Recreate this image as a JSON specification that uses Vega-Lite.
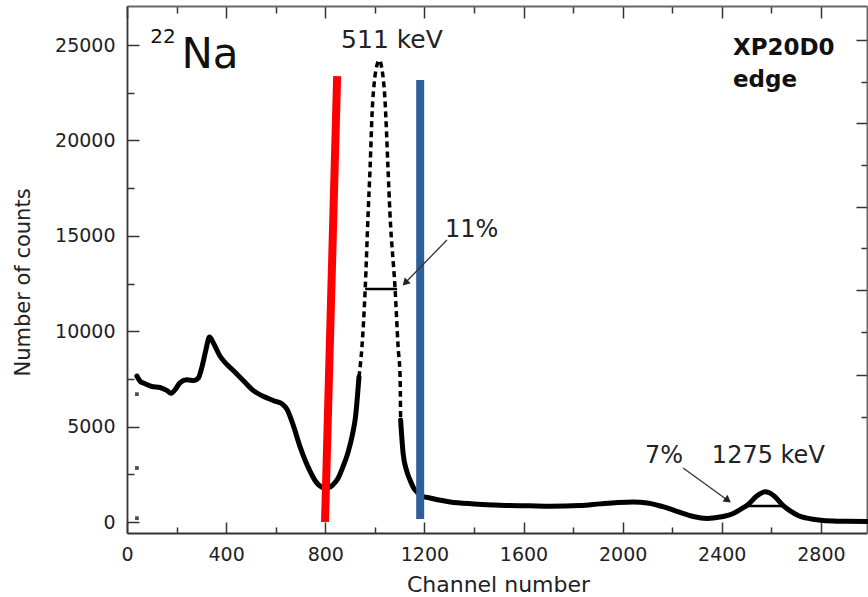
{
  "$schema": "https://vega.github.io/schema/vega-lite/v6.json",
  "width": 740,
  "height": 527,
  "autosize": {"type": "none"},
  "padding": {"left": 127, "top": 6, "right": 1, "bottom": 64},
  "background": "white",
  "config": {"view": {"stroke": null}},
  "datasets": {
    "spec": [
      {"ch": 40, "counts": 7650, "part": "a"},
      {"ch": 55, "counts": 7350, "part": "a"},
      {"ch": 73, "counts": 7250, "part": "a"},
      {"ch": 100, "counts": 7100, "part": "a"},
      {"ch": 133, "counts": 7050, "part": "a"},
      {"ch": 160, "counts": 6900, "part": "a"},
      {"ch": 178, "counts": 6750, "part": "a"},
      {"ch": 195, "counts": 6950, "part": "a"},
      {"ch": 214, "counts": 7300, "part": "a"},
      {"ch": 242, "counts": 7450, "part": "a"},
      {"ch": 270, "counts": 7420, "part": "a"},
      {"ch": 288, "counts": 7550, "part": "a"},
      {"ch": 302, "counts": 8100, "part": "a"},
      {"ch": 318, "counts": 9000, "part": "a"},
      {"ch": 333, "counts": 9700, "part": "a"},
      {"ch": 348, "counts": 9400, "part": "a"},
      {"ch": 375, "counts": 8700, "part": "a"},
      {"ch": 400, "counts": 8300, "part": "a"},
      {"ch": 428, "counts": 7950, "part": "a"},
      {"ch": 470, "counts": 7400, "part": "a"},
      {"ch": 509, "counts": 6900, "part": "a"},
      {"ch": 540, "counts": 6650, "part": "a"},
      {"ch": 565, "counts": 6500, "part": "a"},
      {"ch": 600, "counts": 6320, "part": "a"},
      {"ch": 625, "counts": 6200, "part": "a"},
      {"ch": 646, "counts": 5900, "part": "a"},
      {"ch": 670, "counts": 5100, "part": "a"},
      {"ch": 698, "counts": 3950, "part": "a"},
      {"ch": 720, "counts": 3200, "part": "a"},
      {"ch": 739, "counts": 2650, "part": "a"},
      {"ch": 760, "counts": 2150, "part": "a"},
      {"ch": 780, "counts": 1870, "part": "a"},
      {"ch": 799, "counts": 1780, "part": "a"},
      {"ch": 815, "counts": 1800, "part": "a"},
      {"ch": 831, "counts": 1950, "part": "a"},
      {"ch": 850, "counts": 2250, "part": "a"},
      {"ch": 870, "counts": 2850, "part": "a"},
      {"ch": 892, "counts": 3650, "part": "a"},
      {"ch": 910, "counts": 4600, "part": "a"},
      {"ch": 922, "counts": 5500, "part": "a"},
      {"ch": 936, "counts": 7600, "part": "a"},
      {"ch": 936, "counts": 7600, "part": "b"},
      {"ch": 948, "counts": 9170, "part": "b"},
      {"ch": 961, "counts": 12160, "part": "b"},
      {"ch": 973, "counts": 16190, "part": "b"},
      {"ch": 981, "counts": 18600, "part": "b"},
      {"ch": 989, "counts": 21435, "part": "b"},
      {"ch": 1000, "counts": 23300, "part": "b"},
      {"ch": 1010, "counts": 24000, "part": "b"},
      {"ch": 1018, "counts": 24200, "part": "b"},
      {"ch": 1028, "counts": 23800, "part": "b"},
      {"ch": 1041, "counts": 22120, "part": "b"},
      {"ch": 1053, "counts": 18600, "part": "b"},
      {"ch": 1061, "counts": 16190, "part": "b"},
      {"ch": 1082, "counts": 12160, "part": "b"},
      {"ch": 1094, "counts": 9170, "part": "b"},
      {"ch": 1102, "counts": 7600, "part": "b"},
      {"ch": 1104, "counts": 5350, "part": "b"},
      {"ch": 1104, "counts": 5350, "part": "c"},
      {"ch": 1114, "counts": 3620, "part": "c"},
      {"ch": 1128, "counts": 2700, "part": "c"},
      {"ch": 1142, "counts": 2200, "part": "c"},
      {"ch": 1156, "counts": 1800, "part": "c"},
      {"ch": 1170, "counts": 1570, "part": "c"},
      {"ch": 1195, "counts": 1330, "part": "c"},
      {"ch": 1223, "counts": 1260, "part": "c"},
      {"ch": 1260, "counts": 1150, "part": "c"},
      {"ch": 1304, "counts": 1050, "part": "c"},
      {"ch": 1400, "counts": 950, "part": "c"},
      {"ch": 1505, "counts": 880, "part": "c"},
      {"ch": 1626, "counts": 850, "part": "c"},
      {"ch": 1707, "counts": 830, "part": "c"},
      {"ch": 1828, "counts": 860, "part": "c"},
      {"ch": 1909, "counts": 950, "part": "c"},
      {"ch": 1980, "counts": 1020, "part": "c"},
      {"ch": 2042, "counts": 1050, "part": "c"},
      {"ch": 2100, "counts": 1000, "part": "c"},
      {"ch": 2179, "counts": 740, "part": "c"},
      {"ch": 2232, "counts": 500, "part": "c"},
      {"ch": 2285, "counts": 290, "part": "c"},
      {"ch": 2341, "counts": 190, "part": "c"},
      {"ch": 2393, "counts": 260, "part": "c"},
      {"ch": 2446, "counts": 450, "part": "c"},
      {"ch": 2480, "counts": 700, "part": "c"},
      {"ch": 2505, "counts": 900, "part": "c"},
      {"ch": 2540, "counts": 1350, "part": "c"},
      {"ch": 2575, "counts": 1580, "part": "c"},
      {"ch": 2610, "counts": 1380, "part": "c"},
      {"ch": 2648, "counts": 860, "part": "c"},
      {"ch": 2676, "counts": 580, "part": "c"},
      {"ch": 2710, "counts": 330, "part": "c"},
      {"ch": 2744, "counts": 200, "part": "c"},
      {"ch": 2800, "counts": 90, "part": "c"},
      {"ch": 2849, "counts": 50, "part": "c"},
      {"ch": 2900, "counts": 35, "part": "c"},
      {"ch": 2986, "counts": 25, "part": "c"}
    ]
  },
  "resolve": {"axis": {"x": "independent", "y": "independent"}},
  "layer": [
    {
      "data": {"name": "spec"},
      "transform": [{"filter": "datum.part !== 'b'"}],
      "mark": {"type": "line", "color": "black", "strokeWidth": 5, "strokeJoin": "round", "strokeCap": "round", "interpolate": "monotone"},
      "encoding": {
        "x": {
          "field": "ch", "type": "quantitative",
          "scale": {"domain": [0, 2986], "nice": false, "zero": false},
          "axis": {
            "orient": "bottom",
            "values": [0, 200, 400, 600, 800, 1000, 1200, 1400, 1600, 1800, 2000, 2200, 2400, 2600, 2800],
            "format": "d",
            "labelExpr": "datum.value % 400 === 0 ? datum.label : ''",
            "tickSize": {"condition": {"test": "datum.value % 400 === 0", "value": -11}, "value": -6},
            "tickColor": "#333", "tickWidth": 1.5,
            "domainColor": "#333", "domainWidth": 1.8,
            "labelFont": "DejaVu Sans", "labelFontSize": 19, "labelColor": "#222",
            "labelPadding": 23, "labelFlush": false, "labelOverlap": false,
            "grid": false,
            "title": "Channel number",
            "titleFont": "DejaVu Sans", "titleFontSize": 22, "titleFontWeight": "normal", "titleColor": "#222",
            "titleX": 371, "titleY": 58, "titleAlign": "center", "titleBaseline": "alphabetic"
          }
        },
        "y": {
          "field": "counts", "type": "quantitative",
          "scale": {"domain": [-576, 27044], "nice": false, "zero": false},
          "axis": {
            "orient": "left",
            "values": [0, 2500, 5000, 7500, 10000, 12500, 15000, 17500, 20000, 22500, 25000],
            "format": "d",
            "labelExpr": "datum.value % 5000 === 0 ? datum.label : ''",
            "tickSize": {"condition": {"test": "datum.value % 5000 === 0", "value": -12}, "value": -7},
            "tickColor": "#333", "tickWidth": 1.5,
            "domainColor": "#333", "domainWidth": 1.8,
            "labelFont": "DejaVu Sans", "labelFontSize": 19, "labelColor": "#222",
            "labelPadding": 24, "labelFlush": false, "labelOverlap": false,
            "grid": false,
            "title": "Number of counts",
            "titleFont": "DejaVu Sans", "titleFontSize": 21, "titleFontWeight": "normal", "titleColor": "#222",
            "titleX": -104, "titleY": 276, "titleAngle": -90, "titleAlign": "center", "titleBaseline": "middle"
          }
        },
        "detail": {"field": "part"}
      }
    },
    {
      "data": {"name": "spec"},
      "transform": [{"filter": "datum.part === 'b'"}],
      "mark": {"type": "line", "color": "black", "strokeWidth": 3.5, "strokeDash": [6, 4], "interpolate": "monotone"},
      "encoding": {
        "x": {"field": "ch", "type": "quantitative", "axis": null},
        "y": {"field": "counts", "type": "quantitative", "axis": null}
      }
    },
    {
      "data": {"values": [{"ch": 40, "counts": 6700}, {"ch": 40, "counts": 2830}, {"ch": 40, "counts": 200}]},
      "mark": {"type": "square", "color": "black", "filled": true, "size": 14},
      "encoding": {
        "x": {"field": "ch", "type": "quantitative", "axis": null},
        "y": {"field": "counts", "type": "quantitative", "axis": null}
      }
    },
    {
      "data": {"values": [{"ch": 799, "counts": 0, "ch2": 848, "counts2": 23370}]},
      "mark": {"type": "rule", "color": "#ff0000", "strokeWidth": 8},
      "encoding": {
        "x": {
          "field": "ch", "type": "quantitative",
          "axis": {
            "orient": "top",
            "values": [0, 200, 400, 600, 800, 1000, 1200, 1400, 1600, 1800, 2000, 2200, 2400, 2600, 2800],
            "labels": false, "title": null, "grid": false,
            "tickSize": {"condition": {"test": "datum.value % 400 === 0", "value": -12}, "value": -7},
            "tickColor": "#333", "tickWidth": 1.5,
            "domainColor": "#666", "domainWidth": 2
          }
        },
        "y": {
          "field": "counts", "type": "quantitative",
          "axis": {
            "orient": "right",
            "values": [25262, 23061, 20912, 18711, 16509, 14360, 12159, 9958, 7704, 5503],
            "labels": false, "title": null, "grid": false,
            "tickSize": {"condition": {"test": "indexof([25262, 20912, 16509, 12159, 7704], datum.value) >= 0", "value": -11}, "value": -6},
            "tickColor": "#333", "tickWidth": 1.5,
            "domainColor": "#666", "domainWidth": 2
          }
        },
        "x2": {"field": "ch2"},
        "y2": {"field": "counts2"}
      }
    },
    {
      "data": {"values": [{"ch": 1183, "counts": 160, "counts2": 23160}]},
      "mark": {"type": "rule", "color": "#2e5f9a", "strokeWidth": 8},
      "encoding": {
        "x": {"field": "ch", "type": "quantitative", "axis": null},
        "y": {"field": "counts", "type": "quantitative", "axis": null},
        "y2": {"field": "counts2"}
      }
    },
    {
      "data": {"values": [{"ch": 961, "ch2": 1090, "counts": 12212}, {"ch": 2502, "ch2": 2648, "counts": 838}]},
      "mark": {"type": "rule", "color": "black", "strokeWidth": 2.5},
      "encoding": {
        "x": {"field": "ch", "type": "quantitative", "axis": null},
        "x2": {"field": "ch2"},
        "y": {"field": "counts", "type": "quantitative", "axis": null}
      }
    },
    {
      "data": {"values": [{"ch": 1291, "counts": 14780, "ch2": 1120, "counts2": 12500}, {"ch": 2244, "counts": 2830, "ch2": 2425, "counts2": 1130}]},
      "mark": {"type": "rule", "color": "#333", "strokeWidth": 1.3},
      "encoding": {
        "x": {"field": "ch", "type": "quantitative", "axis": null},
        "y": {"field": "counts", "type": "quantitative", "axis": null},
        "x2": {"field": "ch2"},
        "y2": {"field": "counts2"}
      }
    },
    {
      "data": {"values": [{"ch": 1126, "counts": 12576}]},
      "mark": {"type": "point", "shape": "triangle", "filled": true, "color": "#222", "size": 70, "angle": 224, "opacity": 1},
      "encoding": {
        "x": {"field": "ch", "type": "quantitative", "axis": null},
        "y": {"field": "counts", "type": "quantitative", "axis": null}
      }
    },
    {
      "data": {"values": [{"ch": 2421, "counts": 1174}]},
      "mark": {"type": "point", "shape": "triangle", "filled": true, "color": "#222", "size": 70, "angle": 126, "opacity": 1},
      "encoding": {
        "x": {"field": "ch", "type": "quantitative", "axis": null},
        "y": {"field": "counts", "type": "quantitative", "axis": null}
      }
    },
    {
      "data": {"values": [{"label": "22", "ch": 145, "counts": 25104}]},
      "mark": {"type": "text", "font": "DejaVu Sans", "fontSize": 20, "color": "#111", "align": "center", "baseline": "alphabetic"},
      "encoding": {
        "x": {"field": "ch", "type": "quantitative", "axis": null},
        "y": {"field": "counts", "type": "quantitative", "axis": null},
        "text": {"field": "label"}
      }
    },
    {
      "data": {"values": [{"label": "Na", "ch": 335, "counts": 23794}]},
      "mark": {"type": "text", "font": "DejaVu Sans", "fontSize": 42, "color": "#111", "align": "center", "baseline": "alphabetic"},
      "encoding": {
        "x": {"field": "ch", "type": "quantitative", "axis": null},
        "y": {"field": "counts", "type": "quantitative", "axis": null},
        "text": {"field": "label"}
      }
    },
    {
      "data": {"values": [{"label": "511 keV", "ch": 1069, "counts": 24842}]},
      "mark": {"type": "text", "font": "DejaVu Sans", "fontSize": 25, "color": "#222", "align": "center", "baseline": "alphabetic"},
      "encoding": {
        "x": {"field": "ch", "type": "quantitative", "axis": null},
        "y": {"field": "counts", "type": "quantitative", "axis": null},
        "text": {"field": "label"}
      }
    },
    {
      "data": {"values": [{"label": "11%", "ch": 1283, "counts": 14937}, {"label": "7%", "ch": 2090, "counts": 3092}, {"label": "1275 keV", "ch": 2360, "counts": 3092}]},
      "mark": {"type": "text", "font": "DejaVu Sans", "fontSize": 24, "color": "#222", "align": "left", "baseline": "alphabetic"},
      "encoding": {
        "x": {"field": "ch", "type": "quantitative", "axis": null},
        "y": {"field": "counts", "type": "quantitative", "axis": null},
        "text": {"field": "label"}
      }
    },
    {
      "data": {"values": [{"label": "XP20D0", "ch": 2445, "counts": 24475}, {"label": "edge", "ch": 2445, "counts": 22798}]},
      "mark": {"type": "text", "font": "DejaVu Sans", "fontSize": 23, "fontWeight": "bold", "color": "#111", "align": "left", "baseline": "alphabetic"},
      "encoding": {
        "x": {"field": "ch", "type": "quantitative", "axis": null},
        "y": {"field": "counts", "type": "quantitative", "axis": null},
        "text": {"field": "label"}
      }
    }
  ]
}
